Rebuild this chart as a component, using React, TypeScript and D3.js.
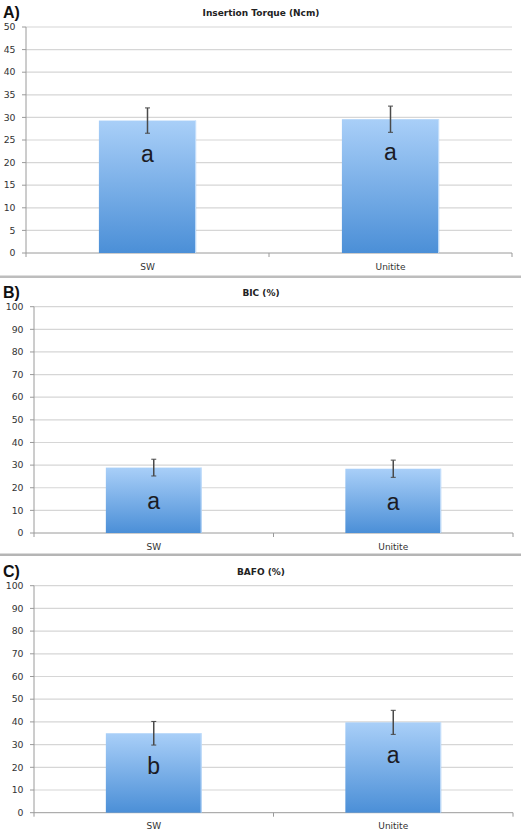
import * as d3 from "d3";

const groups = ["SW", "Unitite"];

const torqueMeans = [29.3, 29.6];
const torqueErrors = [2.8, 2.9];
const torqueLetters = ["a", "a"];

const bicMeans = [28.9, 28.4];
const bicErrors = [3.7, 3.8];
const bicLetters = ["a", "a"];

const bafoMeans = [35.0, 39.8];
const bafoErrors = [5.2, 5.3];
const bafoLetters = ["b", "a"];

type PanelProps = {
  tag: string;
  title: string;
  means: number[];
  errors: number[];
  letters: string[];
  yMax: number;
  yStep: number;
  top: number;
  bottom: number;
  left: number;
  right: number;
  headY: number;
};

const tickFont = "'DejaVu Sans', Verdana, sans-serif";

function Panel({ tag, title, means, errors, letters, yMax, yStep, top, bottom, left, right, headY }: PanelProps) {
  const y = d3.scaleLinear().domain([0, yMax]).range([bottom, top]);
  const x = d3
    .scaleBand<string>()
    .domain(groups)
    .range([left, right])
    .paddingInner(0.6)
    .paddingOuter(0.3);
  const ticks = d3.range(0, yMax + yStep / 2, yStep);
  const step = x.step();
  const bw = x.bandwidth();

  return (
    <g>
      <text x={3} y={headY + 6} fontFamily="'Liberation Sans', Arial, sans-serif" fontWeight={700} fontSize={16} fill="#111">
        {tag}
      </text>
      <text x={261} y={headY + 3.5} textAnchor="middle" fontFamily={tickFont} fontWeight={700} fontSize={9} fill="#222">
        {title}
      </text>

      {/* gridlines + y ticks */}
      {ticks.map(t => (
        <g key={t}>
          {t > 0 && (
            <line x1={left} x2={right} y1={y(t)} y2={y(t)} stroke="#d6d6d6" strokeWidth={1.2} />
          )}
          <line x1={left - 4} x2={left} y1={y(t)} y2={y(t)} stroke="#9a9a9a" />
          <text
            x={left - 10.5}
            y={y(t) + 3.2}
            textAnchor="end"
            fontFamily={tickFont}
            fontSize={9.3}
            fill="#333"
          >
            {t}
          </text>
        </g>
      ))}

      {/* axes */}
      <line x1={left} x2={left} y1={top} y2={bottom} stroke="#9a9a9a" />
      <line x1={left} x2={right} y1={bottom} y2={bottom} stroke="#9a9a9a" />
      {d3.range(groups.length + 1).map(i => (
        <line
          key={i}
          x1={left + i * step}
          x2={left + i * step}
          y1={bottom}
          y2={bottom + 4}
          stroke="#9a9a9a"
        />
      ))}

      {/* bars */}
      {groups.map((g, i) => {
        const bx = x(g)!;
        const cx = bx + bw / 2;
        const yt = y(means[i]);
        return (
          <g key={g}>
            <rect x={bx} y={yt} width={bw} height={bottom - yt} fill="url(#barGrad)" />
            <line x1={bx + bw - 0.5} x2={bx + bw - 0.5} y1={yt} y2={bottom} stroke="#c7e0fb" strokeWidth={1} />
            <line x1={cx} x2={cx} y1={y(means[i] + errors[i])} y2={y(means[i] - errors[i])} stroke="#4a4a4a" strokeWidth={1.5} />
            <line x1={cx - 2.5} x2={cx + 2.5} y1={y(means[i] + errors[i])} y2={y(means[i] + errors[i])} stroke="#4a4a4a" strokeWidth={1} />
            <line x1={cx - 2.5} x2={cx + 2.5} y1={y(means[i] - errors[i])} y2={y(means[i] - errors[i])} stroke="#4a4a4a" strokeWidth={1} />
            <text
              x={cx}
              y={yt + 41}
              textAnchor="middle"
              fontFamily="'Liberation Sans', Arial, sans-serif"
              fontSize={23}
              fill="#1b1b24"
            >
              {letters[i]}
            </text>
            <text
              x={cx}
              y={bottom + 16.5}
              textAnchor="middle"
              fontFamily={tickFont}
              fontSize={9}
              fill="#333"
            >
              {g}
            </text>
          </g>
        );
      })}
    </g>
  );
}

export default function App() {
  const W = 521;
  const H = 832;
  return (
    <svg
      width={W}
      height={H}
      viewBox={`0 0 ${W} ${H}`}
      style={{ position: "absolute", left: 0, top: 0, display: "block", background: "#fff" }}
    >
      <defs>
        <linearGradient id="barGrad" x1="0" y1="0" x2="0" y2="1">
          <stop offset="0%" stopColor="#a9cff8" />
          <stop offset="100%" stopColor="#4b8fd7" />
        </linearGradient>
      </defs>
      <rect width={W} height={H} fill="#fff" />

      <Panel
        tag="A)"
        title="Insertion Torque (Ncm)"
        means={torqueMeans}
        errors={torqueErrors}
        letters={torqueLetters}
        yMax={50}
        yStep={5}
        top={27}
        bottom={253}
        left={26}
        right={512}
        headY={12}
      />
      <rect x={0} y={275.5} width={W} height={2.5} fill="#bdbdbd" />

      <Panel
        tag="B)"
        title="BIC (%)"
        means={bicMeans}
        errors={bicErrors}
        letters={bicLetters}
        yMax={100}
        yStep={10}
        top={306.7}
        bottom={533}
        left={34}
        right={513}
        headY={292}
      />
      <rect x={0} y={553.5} width={W} height={2.5} fill="#b5b5b5" />

      <Panel
        tag="C)"
        title="BAFO (%)"
        means={bafoMeans}
        errors={bafoErrors}
        letters={bafoLetters}
        yMax={100}
        yStep={10}
        top={585.7}
        bottom={812.7}
        left={34}
        right={513}
        headY={571}
      />
    </svg>
  );
}
